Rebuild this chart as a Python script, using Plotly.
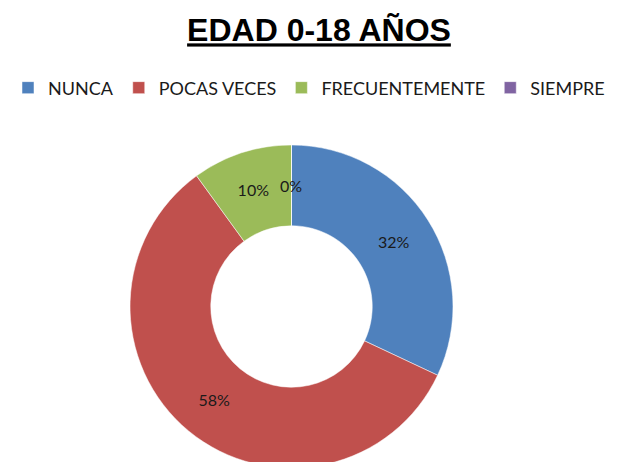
import plotly.graph_objects as go

categorias = ["NUNCA", "POCAS VECES", "FRECUENTEMENTE", "SIEMPRE"]
valores = [32, 58, 10, 0]
colores = ["#4F81BD", "#C0504D", "#9BBB59", "#8064A2"]

W, H = 620, 462
dom_x = [0.1968, 0.7177]
dom_y = [0.0043, 0.7035]
hueco = 0.5

fig = go.Figure()

fig.add_trace(
    go.Pie(
        labels=categorias,
        values=valores,
        hole=hueco,
        sort=False,
        direction="clockwise",
        rotation=0,
        marker=dict(colors=colores, line=dict(color="white", width=0.5)),
        texttemplate="%{percent:.0%}",
        textposition="inside",
        insidetextorientation="horizontal",
        textfont=dict(family="Lato, sans-serif", size=16, color="#1a1a1a"),
        domain=dict(x=dom_x, y=dom_y),
        hoverinfo="label+percent",
    )
)

# la porción de 0% no recibe etiqueta en plotly: se añade en el centro del anillo, arriba
cx = (dom_x[0] + dom_x[1]) / 2
cy = (dom_y[0] + dom_y[1]) / 2
radio = (dom_y[1] - dom_y[0]) * H / 2
r_medio = radio * (1 + hueco) / 2
for nombre, v in zip(categorias, valores):
    if v == 0:
        fig.add_annotation(
            text=f"{v / sum(valores):.0%}",
            xref="paper", yref="paper",
            x=cx, y=cy + r_medio / H,
            showarrow=False,
            font=dict(family="Lato, sans-serif", size=16, color="#1a1a1a"),
        )

fig.update_layout(
    width=W,
    height=H,
    margin=dict(l=0, r=0, t=0, b=0),
    paper_bgcolor="white",
    plot_bgcolor="white",
    title=dict(
        text="<b><u>EDAD 0-18 AÑOS</u></b>",
        x=0.5016,
        xanchor="center",
        y=0.952,
        yanchor="middle",
        font=dict(family="Liberation Sans, Arial", size=32, color="black"),
    ),
    legend=dict(
        orientation="h",
        x=0.481,
        xanchor="center",
        y=0.827,
        yanchor="middle",
        font=dict(family="Lato, sans-serif", size=18, color="#1a1a1a"),
        traceorder="normal",
    ),
)

fig.write_html("out.html")
